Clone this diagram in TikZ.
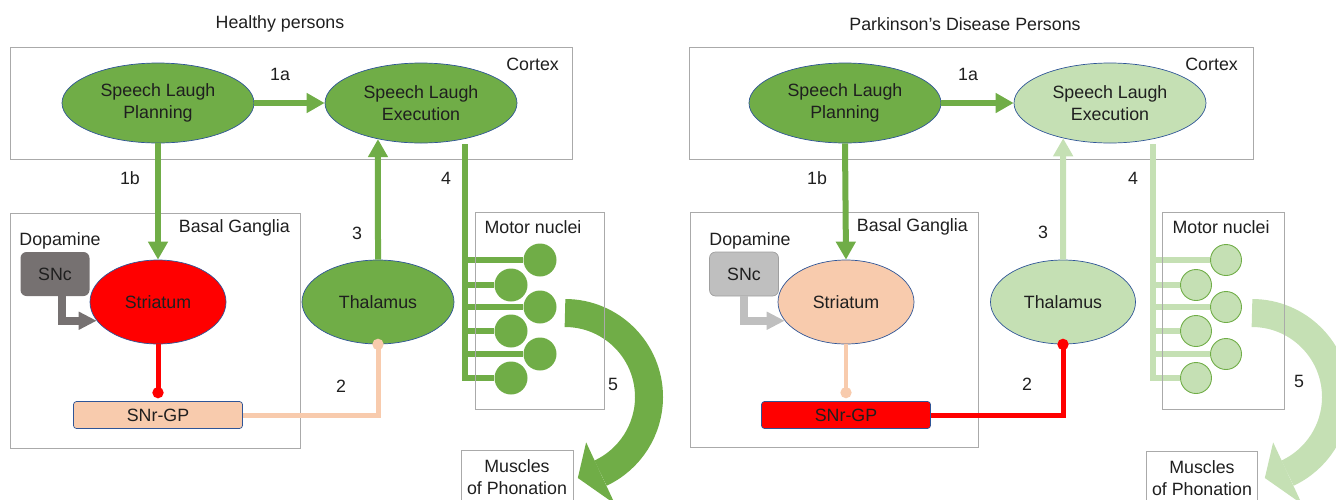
\documentclass[tikz,border=0pt]{standalone}
\usepackage{fontspec}
\setmainfont{Liberation Sans}
\usetikzlibrary{arrows.meta, shapes.geometric, calc}

\definecolor{ggreen}{RGB}{112,173,71}
\definecolor{lgreen}{RGB}{197,224,180}
\definecolor{sred}{RGB}{255,0,0}
\definecolor{peach}{RGB}{248,203,173}
\definecolor{sncdark}{RGB}{118,113,113}
\definecolor{snclight}{RGB}{191,191,191}
\definecolor{edgeblue}{RGB}{47,85,151}
\definecolor{zonegray}{RGB}{170,170,170}

\begin{document}
\begin{tikzpicture}[x=1pt, y=-1pt,
  every node/.style={font=\fontsize{17.8}{21.4}\selectfont, text=black!88},
  blob/.style={ellipse, draw=edgeblue, line width=0.7pt, inner sep=0pt, align=center},
  big/.style={blob, minimum width=192pt, minimum height=80pt},
  mid/.style={blob, minimum width=136pt, minimum height=84pt},
  sncbox/.style={rectangle, rounded corners=6pt, minimum width=69pt, minimum height=44pt},
  snrbox/.style={rectangle, rounded corners=3pt, draw=edgeblue, line width=0.7pt,
                 minimum width=169pt, minimum height=27pt, inner sep=0pt},
  nucleus/.style={circle, minimum size=33pt, inner sep=0pt},
  zone/.style={draw=zonegray, line width=0.9pt},
  tag/.style={inner sep=0pt},
  link/.style={line width=6pt},
  garrow/.style={link, -{Triangle[length=18pt, width=19pt]}},
  knob/.style={line width=5pt, -{Circle[length=11pt]}},
  sncarrow/.style={line width=8pt, -{Triangle[length=18pt, width=17pt]}},
  band/.style={line width=28pt}]

  \useasboundingbox (0,0) rectangle (1336,499);

  % Titles
  \node (ttlA) at (280,24) {Healthy persons};
  \node (ttlB) at (965,24) {Parkinson’s Disease Persons};

  % ===== Healthy persons =====
  % Region boxes (under)
  \draw[zone] (10,47) rectangle (572,159);
  \draw[zone] (10,213) rectangle (300,448);
  \node[tag, anchor=east] (cortA) at (559,64) {Cortex};
  \node[tag, anchor=east] (basA) at (290,228) {Basal Ganglia};
  \node (motA) at (533,227) {Motor nuclei};

  % Cortex
  \node[big, fill=ggreen] (planA) at (158,103) {Speech Laugh\\Planning};
  \node[big, fill=ggreen] (execA) at (421,103) {Speech Laugh\\Execution};

  % Basal ganglia and thalamus
  \node (dopA) at (60,241) {Dopamine};
  \node[sncbox, fill=sncdark] (sncA) at (55,274) {SNc};
  \node[mid, fill=sred] (striA) at (158,302) {Striatum};
  \node[snrbox, fill=peach] (snrA) at (158,415) {SNr-GP};
  \node[mid, fill=ggreen, minimum width=152pt] (thalA) at (378,302) {Thalamus};

  % Motor nuclei
  \foreach \i/\x/\y in {1/540/260, 2/511/285, 3/540/307, 4/511/331, 5/540/354, 6/511/378}
    \node[nucleus, fill=ggreen] (nA\i) at (\x,\y) {};
  \node[zone, tag, minimum width=112pt, minimum height=54pt, align=center] (musA) at (517,477) {Muscles\\of Phonation};

  % Pathways
  \draw[garrow, ggreen] (planA.east) -- (execA.west);
  \draw[garrow, ggreen] (planA.south) -- (striA.north);
  \draw[sncarrow, sncdark] ([xshift=7pt]sncA.south) |- (striA.197);
  \draw[knob, sred, shorten >=3pt] (striA.south) -- (snrA.north);
  \draw[knob, peach, shorten >=-5.5pt] (snrA.east) -| (thalA.south);
  \draw[garrow, ggreen] (thalA.north) -- (execA.220);
  \coordinate (topA) at (465,144);
  \draw[link, ggreen] (topA) |- (nA6.west);
  \foreach \i in {1,...,5}
    \draw[link, ggreen] (topA |- nA\i) -- (nA\i.west);

  % Output to the muscles
  \coordinate (bendA) at (565,397);
  \draw[band, ggreen] ($(bendA)+(-90:84)$) arc[start angle=-90, end angle=65, radius=84];
  \fill[ggreen] ($(bendA)+(65:50)$) -- ($(bendA)+(65:118)$) -- ($(bendA)+(81:82)$) -- cycle;
  \draw[zone] (475,212) rectangle (604,409);

  % Numbers
  \node (la1a) at (280,74) {1a};
  \node (la1b) at (130,178) {1b};
  \node (la4) at (446,178) {4};
  \node (la3) at (357,233) {3};
  \node (la2) at (341,386) {2};
  \node (la5) at (613,384) {5};

  % ===== Parkinson's disease persons =====
  % Region boxes (under)
  \draw[zone] (689,47) rectangle (1253,159);
  \draw[zone] (690,212) rectangle (978,447);
  \node[tag, anchor=east] (cortB) at (1238,64) {Cortex};
  \node[tag, anchor=east] (basB) at (968,227) {Basal Ganglia};
  \node (motB) at (1221,227) {Motor nuclei};

  % Cortex
  \node[big, fill=ggreen] (planB) at (845,103) {Speech Laugh\\Planning};
  \node[big, fill=lgreen] (execB) at (1110,103) {Speech Laugh\\Execution};

  % Basal ganglia and thalamus
  \node (dopB) at (750,241) {Dopamine};
  \node[sncbox, fill=snclight, draw=gray!75, line width=0.7pt] (sncB) at (744,274) {SNc};
  \node[mid, fill=peach] (striB) at (846,302) {Striatum};
  \node[snrbox, fill=sred] (snrB) at (846,415) {SNr-GP};
  \node[mid, fill=lgreen, minimum width=145pt] (thalB) at (1063,302) {Thalamus};

  % Motor nuclei
  \foreach \i/\x/\y in {1/1226/260, 2/1196/285, 3/1226/307, 4/1196/331, 5/1226/354, 6/1196/378}
    \node[nucleus, fill=lgreen, draw=ggreen, line width=0.9pt, minimum size=31pt] (nB\i) at (\x,\y) {};
  \node[zone, tag, minimum width=111pt, minimum height=54pt, align=center] (musB) at (1202,478) {Muscles\\of Phonation};

  % Pathways
  \draw[garrow, ggreen] (planB.east) -- (execB.west);
  \draw[garrow, ggreen] (planB.south) -- (striB.north);
  \draw[sncarrow, snclight] (sncB.south) |- (striB.197);
  \draw[knob, peach, line width=4pt, shorten >=3pt] (striB.south) -- (snrB.north);
  \draw[knob, sred, shorten >=-5.5pt] (snrB.east) -| (thalB.south);
  \draw[garrow, lgreen] (thalB.north) -- (execB.217);
  \coordinate (topB) at (1153,144);
  \draw[link, lgreen] (topB) |- (nB6.west);
  \foreach \i in {1,...,5}
    \draw[link, lgreen] (topB |- nB\i) -- (nB\i.west);

  % Output to the muscles
  \coordinate (bendB) at (1252,397);
  \draw[band, lgreen] ($(bendB)+(-90:84)$) arc[start angle=-90, end angle=65, radius=84];
  \fill[lgreen] ($(bendB)+(65:50)$) -- ($(bendB)+(65:118)$) -- ($(bendB)+(81:82)$) -- cycle;
  \draw[zone] (1162,212) rectangle (1284,409);

  % Numbers
  \node (lb1a) at (968,74) {1a};
  \node (lb1b) at (817,178) {1b};
  \node (lb4) at (1133,178) {4};
  \node (lb3) at (1043,232) {3};
  \node (lb2) at (1027,384) {2};
  \node (lb5) at (1299,381) {5};

\end{tikzpicture}
\end{document}
